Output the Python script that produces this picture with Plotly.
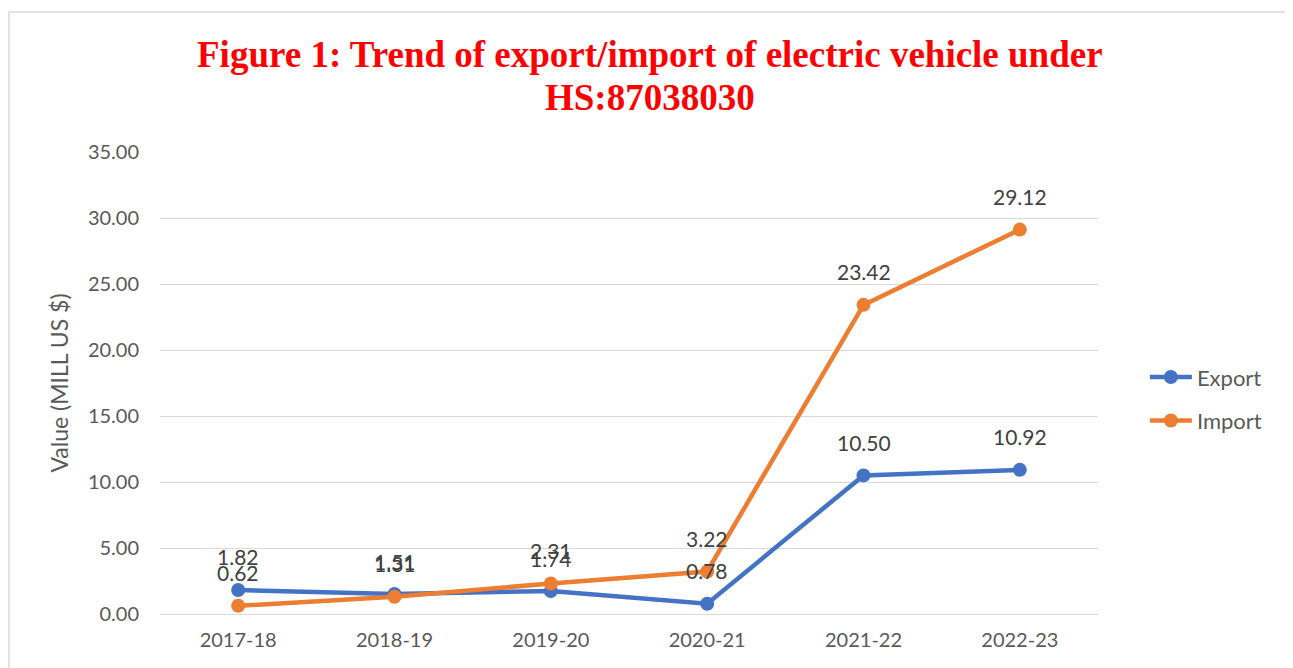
import plotly.graph_objects as go

years = ["2017-18", "2018-19", "2019-20", "2020-21", "2021-22", "2022-23"]
export_vals = [1.82, 1.51, 1.74, 0.78, 10.50, 10.92]
import_vals = [0.62, 1.31, 2.31, 3.22, 23.42, 29.12]
y_ticks = [0, 5, 10, 15, 20, 25, 30, 35]
title_lines = ["Figure 1: Trend of export/import of electric vehicle under", "HS:87038030"]

BLUE = "#4472C4"
ORANGE = "#ED7D31"
TXT = "#595959"
FONT = "Lato, Open Sans, sans-serif"

fig = go.Figure()
fig.add_trace(go.Scatter(x=years, y=export_vals, name="Export", mode="lines+markers",
                         line=dict(color=BLUE, width=4.5), marker=dict(size=14, color=BLUE),
                         legendgroup="e"))
fig.add_trace(go.Scatter(x=years, y=import_vals, name="Import", mode="lines+markers",
                         line=dict(color=ORANGE, width=4.5), marker=dict(size=14, color=ORANGE),
                         legendgroup="i"))

for ys in (export_vals, import_vals):
    for xv, yv in zip(years, ys):
        fig.add_annotation(x=xv, y=yv, text=f"{yv:.2f}", showarrow=False, yshift=33,
                           font=dict(family=FONT, size=21, color="#404040"))

for line_text, ypos in zip(title_lines, [1.21, 1.119]):
    fig.add_annotation(xref="paper", yref="paper", x=0.5224, y=ypos, xanchor="center",
                       yanchor="middle", showarrow=False, text=f"<b>{line_text}</b>",
                       font=dict(family="Liberation Serif, Times New Roman, serif", size=37,
                                 color="#FF0000"))

fig.add_shape(type="rect", xref="paper", yref="paper", x0=-0.161, x1=1.2015,
              y0=-0.3, y1=1.303, line=dict(color="#d9d9d9", width=1.5), layer="below")

fig.update_layout(
    width=1285, height=660,
    margin=dict(l=152, r=195, t=144, b=54),
    paper_bgcolor="white", plot_bgcolor="white",
    xaxis=dict(range=[-0.5, 5.5], showgrid=False, zeroline=False, showline=False,
               tickfont=dict(family=FONT, size=20, color=TXT), ticks="",
               ticklabelstandoff=12),
    yaxis=dict(range=[0, 35], tickvals=y_ticks, tickformat=".2f",
               gridcolor="#d9d9d9", gridwidth=1, zeroline=True, zerolinecolor="#d9d9d9",
               zerolinewidth=1, showline=False, ticks="", ticklabelstandoff=20,
               tickfont=dict(family=FONT, size=20, color=TXT),
               title=dict(text="Value (MILL US $)", standoff=12,
                          font=dict(family=FONT, size=23, color=TXT))),
    legend=dict(x=1.050, y=0.465, xanchor="left", yanchor="middle", itemwidth=42,
                font=dict(family=FONT, size=22, color=TXT), tracegroupgap=12,
                bgcolor="rgba(0,0,0,0)"),
    showlegend=True,
)

fig.write_html("out.html")
